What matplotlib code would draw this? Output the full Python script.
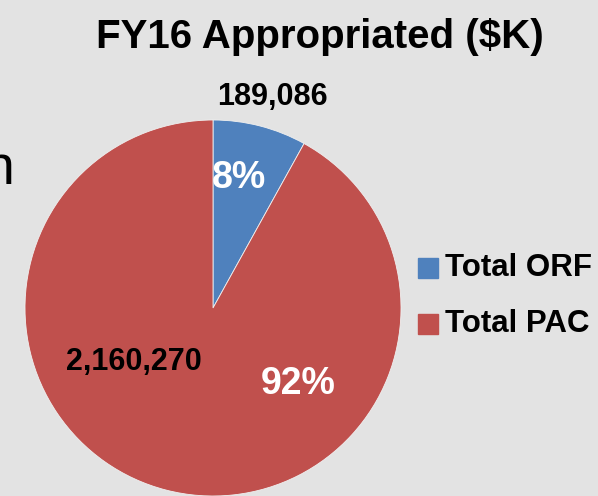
import matplotlib.pyplot as plt

# data
labels = ["Total ORF", "Total PAC"]
values = [189086, 2160270]
colors = ["#4f81bd", "#c0504d"]
value_text = ["189,086", "2,160,270"]

W, H = 598, 496
bg = "#e3e3e3"
font = ["Liberation Sans Narrow", "Liberation Sans", "DejaVu Sans"]

fig = plt.figure(figsize=(W / 100, H / 100), dpi=100, facecolor=bg)

# pie axes: centre (213, 308) px, radius 188 px
cx, cy, r = 213, 308, 188
ax = fig.add_axes([(cx - r) / W, (H - cy - r) / H, 2 * r / W, 2 * r / H])
ax.set_facecolor(bg)
ax.axis("off")

wedges, _ = ax.pie(values, colors=colors, startangle=90, counterclock=False,
                   radius=1, wedgeprops=dict(edgecolor="#f0f0f0", linewidth=0.6))
ax.set_xlim(-1, 1)
ax.set_ylim(-1, 1)
for w in wedges:
    w.set_clip_on(False)

total = sum(values)
pcts = [f"{round(v / total * 100)}%" for v in values]


def px(x, y):
    return x / W, 1 - y / H


# value / percent labels
fig.text(*px(239, 178), pcts[0], color="white", fontsize=27, fontweight="bold",
         ha="center", va="center", family=font)
fig.text(*px(298, 384), pcts[1], color="white", fontsize=27, fontweight="bold",
         ha="center", va="center", family=font)
fig.text(*px(272, 97), value_text[0], color="black", fontsize=22, fontweight="bold",
         ha="center", va="center", family=font)
fig.text(*px(134, 362), value_text[1], color="black", fontsize=22, fontweight="bold",
         ha="center", va="center", family=font)

# title
fig.text(*px(320, 37), "FY16 Appropriated ($K)", color="black", fontsize=29,
         fontweight="bold", ha="center", va="center", family=font)

# legend
for i, (lab, col) in enumerate(zip(labels, colors)):
    yc = 268 + i * 56
    fig.patches.append(plt.Rectangle(px(418, yc + 10), 20 / W, 20 / H,
                                     transform=fig.transFigure, color=col))
    fig.text(*px(445, yc), lab, color="black", fontsize=22.5, fontweight="bold",
             ha="left", va="center", family=font)

# cropped slide text at left edge
fig.text(*px(14, 170), "n", color="black", fontsize=40, ha="right", va="center",
         family=["Liberation Sans", "DejaVu Sans"])

fig.savefig("out.png", dpi=100, facecolor=bg)
